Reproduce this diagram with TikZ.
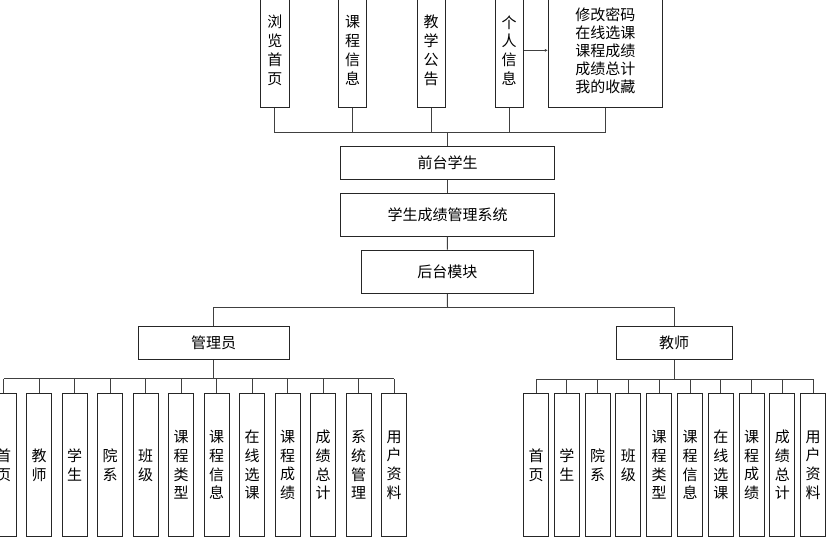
\documentclass[tikz,border=0pt]{standalone}
\usepackage{fontspec}
\newfontfamily\cjk{Noto Sans CJK SC}
\usetikzlibrary{arrows.meta}
\begin{document}
\begin{tikzpicture}[x=1pt,y=-1pt,
  box/.style={draw=black!85,line width=1pt,inner sep=0pt,align=center,
    font=\cjk\fontsize{15}{18.7}\selectfont},
  conn/.style={draw=black!75,line width=1pt}]
\useasboundingbox (0,0) rectangle (826,536);
\begin{scope}
\clip (0,0) rectangle (826,536);
% top row
\node[box,minimum width=28.3,minimum height=114.7] (t1) at (274.85,50.35) {浏\\览\\首\\页};
\node[box,minimum width=28.4,minimum height=114.7] (t2) at (352.5,50.35) {课\\程\\信\\息};
\node[box,minimum width=28.3,minimum height=114.7] (t3) at (431.2,50.35) {教\\学\\公\\告};
\node[box,minimum width=28.3,minimum height=114.7] (t4) at (509.2,50.35) {个\\人\\信\\息};
\node[box,minimum width=114,minimum height=114.7,font=\cjk\fontsize{15}{18}\selectfont] (t5) at (605.3,50.35) {修改密码\\在线选课\\课程成绩\\成绩总计\\我的收藏};
\draw[conn,-{Latex[length=3pt,width=3pt]}] (t4.east) -- (t5.west);
% middle column
\node[box,minimum width=213.6,minimum height=33.3] (qt) at (447.5,162.7) {前台学生};
\node[box,minimum width=213.6,minimum height=42.7] (sys) at (447.5,214.7) {学生成绩管理系统};
\node[box,minimum width=172.7,minimum height=43.3] (ht) at (447.35,271.7) {后台模块};
\coordinate (tbus) at (447.5,132);
\draw[conn] (t1.south) -- (t1.south |- tbus) -- (t5.south |- tbus) -- (t5.south);
\foreach \n in {t2,t3,t4} \draw[conn] (\n.south) -- (\n.south |- tbus);
\draw[conn] (tbus) -- (qt.north);
\draw[conn] (qt.south) -- (sys.north);
\draw[conn] (sys.south) -- (ht.north);
% roles
\node[box,minimum width=150.7,minimum height=32.6] (adm) at (213.65,343) {管理员};
\node[box,minimum width=116.3,minimum height=32.6] (tea) at (674.15,343) {教师};
\coordinate (split) at (447.5,307);
\draw[conn] (ht.south) -- (split);
\draw[conn] (adm.north) -- (adm.north |- split) -- (tea.north |- split) -- (tea.north);
% admin children
\coordinate (abus) at (213.65,378.5);
\foreach \t [count=\i from 0] in {首\\页,教\\师,学\\生,院\\系,班\\级,课\\程\\类\\型,课\\程\\信\\息,在\\线\\选\\课,课\\程\\成\\绩,成\\绩\\总\\计,系\\统\\管\\理,用\\户\\资\\料}{
  \node[box,minimum width=25,minimum height=143.4] (a\i) at ({3.7+35.5*\i},465) {\t};
  \draw[conn] (a\i.north) -- (a\i.north |- abus);
}
\draw[conn] (adm.south) -- (abus);
\draw[conn] (a0.north |- abus) -- (a11.north |- abus);
% teacher children
\coordinate (bbus) at (674.15,379);
\foreach \t [count=\i from 0] in {首\\页,学\\生,院\\系,班\\级,课\\程\\类\\型,课\\程\\信\\息,在\\线\\选\\课,课\\程\\成\\绩,成\\绩\\总\\计,用\\户\\资\\料}{
  \node[box,minimum width=25,minimum height=143.4] (b\i) at ({536+30.8*\i},465) {\t};
  \draw[conn] (b\i.north) -- (b\i.north |- bbus);
}
\draw[conn] (tea.south) -- (bbus);
\draw[conn] (b0.north |- bbus) -- (b9.north |- bbus);
\end{scope}
\end{tikzpicture}
\end{document}
